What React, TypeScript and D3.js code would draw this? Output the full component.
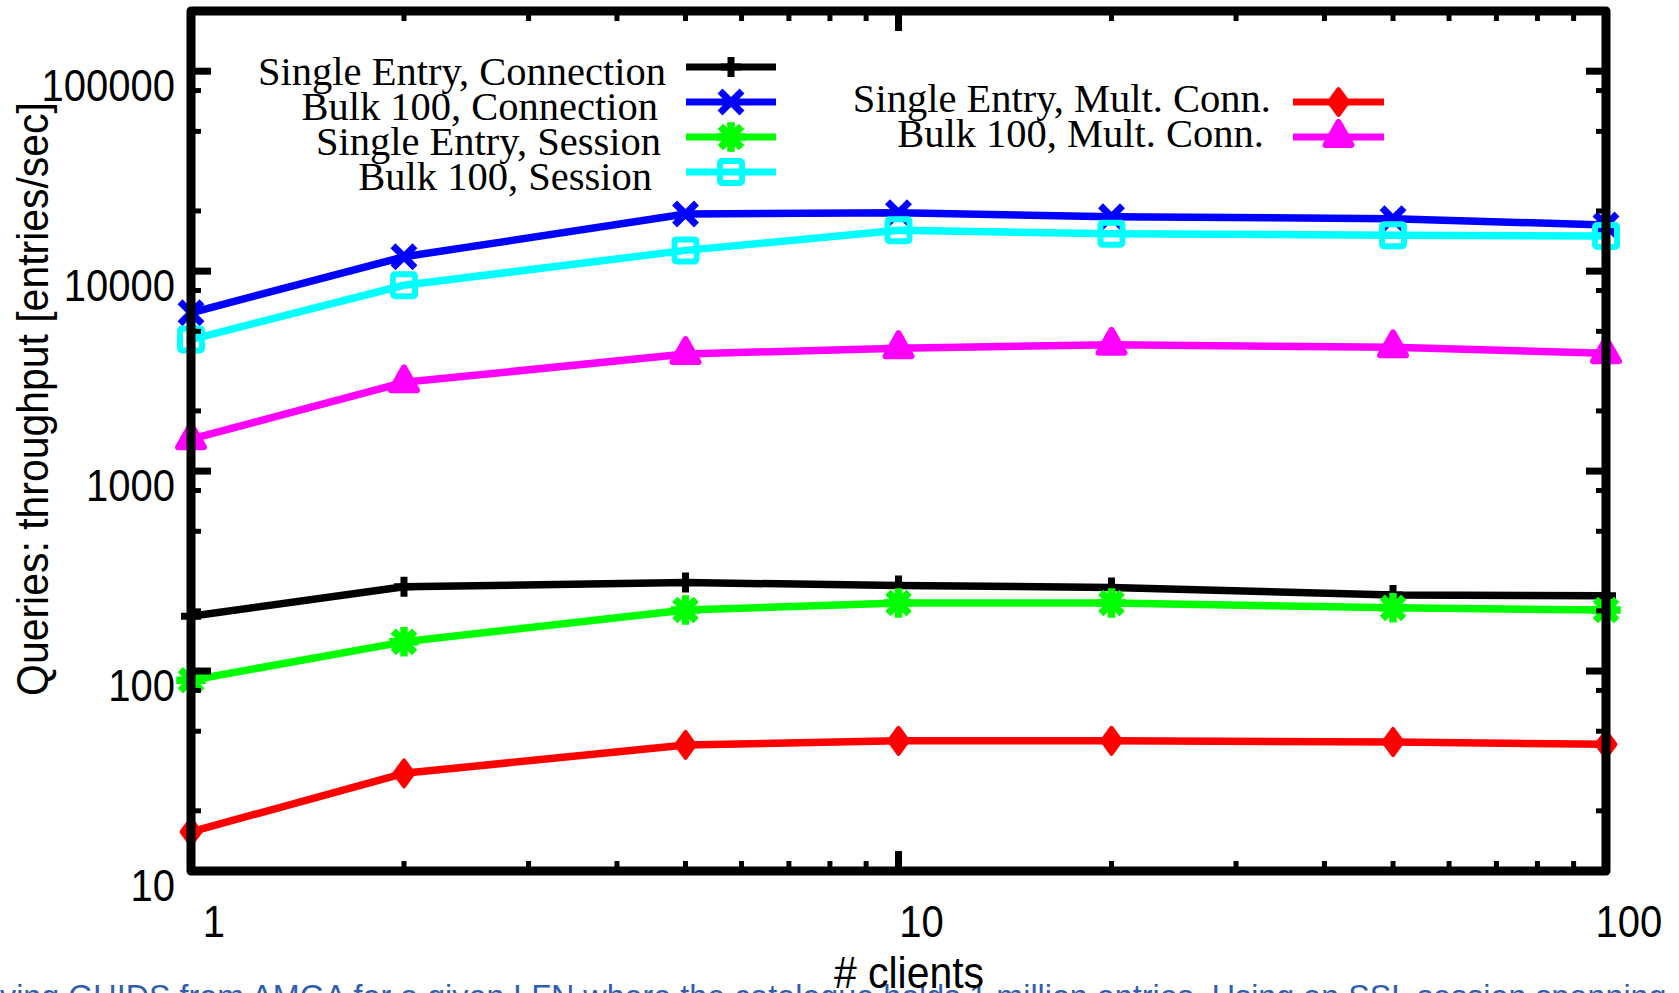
import React, { useEffect } from 'react';
import * as d3 from 'd3';

// ---------- data ----------
const clients = [1, 2, 5, 10, 20, 50, 100];
const singleEntryConnection = [188, 264, 277, 268, 262, 240, 238];
const bulk100Connection = [6190, 11800, 19300, 19600, 18700, 18300, 17000];
const singleEntrySession = [90, 140, 202, 219, 219, 207, 202];
const bulk100Session = [4550, 8500, 12700, 16000, 15400, 15100, 15000];
const singleEntryMultConn = [15.7, 30.8, 42.7, 44.8, 44.8, 44.2, 43];
const bulk100MultConn = [1445, 2780, 3850, 4120, 4280, 4160, 3890];

const seriesLabels = [
  'Single Entry, Connection',
  'Bulk 100, Connection',
  'Single Entry, Session',
  'Bulk 100, Session',
  'Single Entry, Mult. Conn.',
  'Bulk 100, Mult. Conn.',
];

const yTickValues = [10, 100, 1000, 10000, 100000];
const yTickLabels = ['10', '100', '1000', '10000', '100000'];
const xTickValues = [1, 10, 100];
const xTickLabels = ['1', '10', '100'];

const xTitle = '# clients';
const yTitle = 'Queries: throughput [entries/sec]';
const caption =
  'ving GUIDS from AMGA for a given LFN where the catalogue holds 1 million entries. Using an SSL session spanning';

// ---------- styles / layout ----------
const W = 1679;
const H = 993;
const left = 191, right = 1606, top = 11, bottom = 871;
const colors = ['#000000', '#0000ff', '#00ff00', '#00ffff', '#ff0000', '#ff00ff'];
const markers = ['plus', 'x', 'asterisk', 'square', 'diamond', 'triangle'];
const seriesValues = [
  singleEntryConnection,
  bulk100Connection,
  singleEntrySession,
  bulk100Session,
  singleEntryMultConn,
  bulk100MultConn,
];
// legend layout: [textRight, lineY, sampleX0, sampleX1, baselineOffset]
const legendLayout = [
  [666, 67, 686, 776, 18],
  [658, 102, 686, 776, 18],
  [661, 137, 686, 776, 18],
  [652, 172, 686, 776, 18],
  [1271, 102, 1293, 1384, 10],
  [1264, 137, 1293, 1384, 10],
];

const x = d3.scaleLog().domain([1, 100]).range([left, right]);
const y = d3.scaleLog().domain([10, 200000]).range([bottom, top]);

const SX = 0.92; // horizontal condensing of sans text
const SANS_SIZE = 43.5;

function Marker({ type, cx, cy, color }: { type: string; cx: number; cy: number; color: string }) {
  if (type === 'plus') {
    return (
      <path d={`M${cx - 10},${cy}H${cx + 10}M${cx},${cy - 10}V${cy + 10}`} stroke={color} strokeWidth={7} fill="none" />
    );
  }
  if (type === 'x') {
    const a = 8.5;
    return (
      <path
        d={`M${cx - a},${cy - a}L${cx + a},${cy + a}M${cx - a},${cy + a}L${cx + a},${cy - a}`}
        stroke={color}
        strokeWidth={7}
        strokeLinecap="square"
        fill="none"
      />
    );
  }
  if (type === 'asterisk') {
    const a = 8;
    return (
      <path
        d={`M${cx - a},${cy - a}L${cx + a},${cy + a}M${cx - a},${cy + a}L${cx + a},${cy - a}M${cx - 11},${cy}H${cx + 11}M${cx},${cy - 11}V${cy + 11}`}
        stroke={color}
        strokeWidth={7.5}
        strokeLinecap="square"
        fill="none"
      />
    );
  }
  if (type === 'square') {
    return (
      <rect x={cx - 11} y={cy - 11} width={22} height={22} rx={2} stroke={color} strokeWidth={6} fill="none" />
    );
  }
  if (type === 'diamond') {
    return (
      <path
        d={`M${cx},${cy - 13}L${cx + 9.5},${cy}L${cx},${cy + 13}L${cx - 9.5},${cy}Z`}
        fill={color}
        stroke={color}
        strokeWidth={4}
        strokeLinejoin="round"
      />
    );
  }
  return (
    <path
      d={`M${cx},${cy - 15}L${cx + 13},${cy + 8}L${cx - 13},${cy + 8}Z`}
      fill={color}
      stroke={color}
      strokeWidth={6}
      strokeLinejoin="round"
    />
  );
}

function SansText({
  tx,
  ty,
  anchor,
  rotate,
  size,
  fill,
  children,
}: {
  tx: number;
  ty: number;
  anchor: string;
  rotate?: number;
  size?: number;
  fill?: string;
  children: React.ReactNode;
}) {
  return (
    <text
      transform={`translate(${tx},${ty})${rotate ? ` rotate(${rotate})` : ''} scale(${SX},1)`}
      textAnchor={anchor}
      fontFamily='"Liberation Sans", Arial, Helvetica, sans-serif'
      fontSize={size ?? SANS_SIZE}
      fill={fill ?? '#000'}
    >
      {children}
    </text>
  );
}

export default function App() {
  useEffect(() => {
    document.body.style.margin = '0';
    document.body.style.overflow = 'hidden';
  }, []);

  const line = d3
    .line<number>()
    .x((_, i) => x(clients[i]))
    .y((d) => y(d));

  const yMinor: number[] = [];
  yTickValues.forEach((d) => {
    [2, 5, 8].forEach((m) => {
      const v = d * m;
      if (v < 200000) yMinor.push(v);
    });
  });
  const xMinor: number[] = [];
  [1, 10].forEach((d) => {
    for (let m = 2; m <= 9; m++) xMinor.push(d * m);
  });

  const majLen = 20, minLen = 10, majW = 7, minW = 5;
  const serif = '"Liberation Serif", "Times New Roman", Times, serif';

  return (
    <svg width={W} height={H} style={{ position: 'absolute', left: 0, top: 0, background: '#fff' }}>
      <rect x={0} y={0} width={W} height={H} fill="#fff" />

      {/* series */}
      {seriesValues.map((vals, si) => (
        <g key={si}>
          <path d={line(vals) || ''} fill="none" stroke={colors[si]} strokeWidth={7.5} strokeLinejoin="round" />
          {vals.map((v, i) => (
            <Marker key={i} type={markers[si]} cx={x(clients[i])} cy={y(v)} color={colors[si]} />
          ))}
        </g>
      ))}

      {/* ticks */}
      <g stroke="#000">
        {yTickValues.map((v) => (
          <g key={'ym' + v}>
            <line x1={left} x2={left + majLen} y1={y(v)} y2={y(v)} strokeWidth={majW} />
            <line x1={right} x2={right - majLen} y1={y(v)} y2={y(v)} strokeWidth={majW} />
          </g>
        ))}
        {yMinor.map((v) => (
          <g key={'yn' + v}>
            <line x1={left} x2={left + minLen} y1={y(v)} y2={y(v)} strokeWidth={minW} />
            <line x1={right} x2={right - minLen} y1={y(v)} y2={y(v)} strokeWidth={minW} />
          </g>
        ))}
        {xTickValues.map((v) => (
          <g key={'xm' + v}>
            <line x1={x(v)} x2={x(v)} y1={bottom} y2={bottom - majLen} strokeWidth={majW} />
            <line x1={x(v)} x2={x(v)} y1={top} y2={top + majLen} strokeWidth={majW} />
          </g>
        ))}
        {xMinor.map((v) => (
          <g key={'xn' + v}>
            <line x1={x(v)} x2={x(v)} y1={bottom} y2={bottom - minLen} strokeWidth={minW} />
            <line x1={x(v)} x2={x(v)} y1={top} y2={top + minLen} strokeWidth={minW} />
          </g>
        ))}
      </g>

      {/* frame */}
      <rect
        x={left}
        y={top}
        width={right - left}
        height={bottom - top}
        fill="none"
        stroke="#000"
        strokeWidth={9}
        strokeLinejoin="round"
      />

      {/* tick labels */}
      {yTickValues.map((v, i) => (
        <SansText key={'yl' + v} tx={175} ty={y(v) + 30} anchor="end">
          {yTickLabels[i]}
        </SansText>
      ))}
      {xTickValues.map((v, i) => (
        <SansText key={'xl' + v} tx={x(v) + 23} ty={937} anchor="middle">
          {xTickLabels[i]}
        </SansText>
      ))}

      {/* axis titles */}
      <SansText tx={48} ty={399} anchor="middle" rotate={-90} size={44.5}>
        {yTitle}
      </SansText>

      {/* caption (cut off) */}
      <text x={0} y={1008} fontFamily='"Liberation Sans", Arial, Helvetica, sans-serif' fontSize={32.3} fill="#2f5fae">
        {caption}
      </text>

      <SansText tx={909} ty={988} anchor="middle" size={44.5}>
        {xTitle}
      </SansText>

      {/* legend */}
      {seriesLabels.map((lab, si) => {
        const [tr, ly, sx0, sx1, bo] = legendLayout[si];
        return (
          <g key={'lg' + si}>
            <text x={tr} y={ly + bo} textAnchor="end" fontFamily={serif} fontSize={40.5} fill="#000">
              {lab}
            </text>
            <line x1={sx0} x2={sx1} y1={ly} y2={ly} stroke={colors[si]} strokeWidth={7} />
            <Marker type={markers[si]} cx={(sx0 + sx1) / 2} cy={ly} color={colors[si]} />
          </g>
        );
      })}
    </svg>
  );
}
